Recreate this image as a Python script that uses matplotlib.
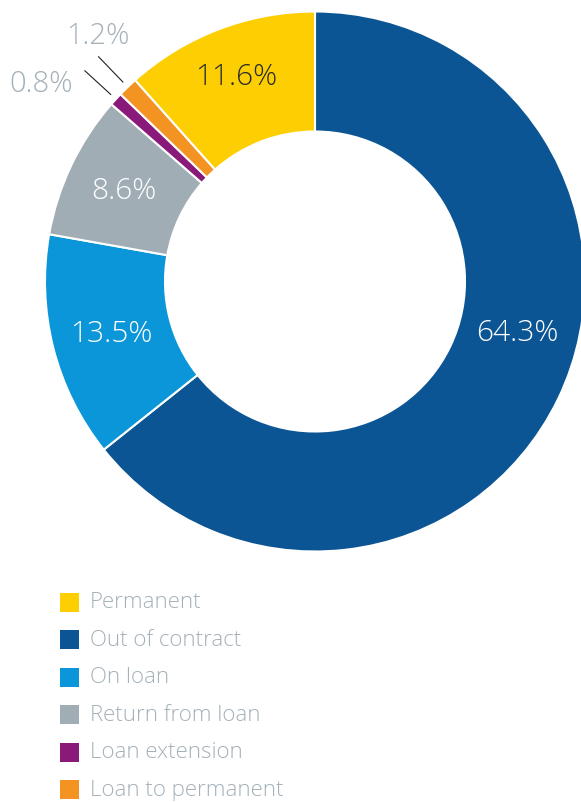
import numpy as np
import matplotlib.pyplot as plt
from matplotlib.patches import Rectangle

categories = ["Out of contract", "On loan", "Return from loan", "Loan extension",
              "Loan to permanent", "Permanent"]
values = [64.3, 13.5, 8.6, 0.8, 1.2, 11.6]
colors = ["#0b5594", "#0a96d8", "#a0adb5", "#8a1a7a", "#f39322", "#fdcf03"]
legend_order = ["Permanent", "Out of contract", "On loan", "Return from loan",
                "Loan extension", "Loan to permanent"]

plt.rcParams['font.family'] = ['Open Sans', 'DejaVu Sans']
plt.rcParams['font.weight'] = 'light'
grey_txt = "#a4b1b9"

W, H = 581, 803
fig = plt.figure(figsize=(W / 100, H / 100), dpi=100)
ax = fig.add_axes([0, 0, 1, 1])

cx, cy = 315, H - 282.5
r_out, r_in = 270, 150

wedges, _ = ax.pie(values, colors=colors, startangle=90, counterclock=False,
                   center=(cx, cy), radius=r_out, frame=True,
                   wedgeprops=dict(width=r_out - r_in, edgecolor='white', linewidth=1.5))
ax.set_xlim(0, W)
ax.set_ylim(0, H)
ax.set_aspect('equal')
ax.axis('off')

# mid angles of each wedge
cum = np.cumsum([0] + values)
mids = [90 - (cum[i] + values[i] / 2) * 3.6 for i in range(len(values))]

# labels inside the ring
inside = {0: ("white", -14, 208), 1: ("white", None, 210), 2: ("white", None, 212),
          5: ("#2b2b2b", None, 220)}
for i, (col, ang, rr) in inside.items():
    a = np.radians(mids[i] if ang is None else ang)
    ax.text(cx + rr * np.cos(a), cy + rr * np.sin(a), f"{values[i]:.1f}%",
            color=col, fontsize=21.5, ha='center', va='center', fontweight='light')

# small slices: leader lines + outside labels
outside = {3: (-12, -12, 'right'), 4: (-1, 22, 'center')}
for i, (dx, dy, ha) in outside.items():
    a = np.radians(mids[i])
    x0, y0 = cx + 277 * np.cos(a), cy + 277 * np.sin(a)
    x1, y1 = cx + 312 * np.cos(a), cy + 312 * np.sin(a)
    ax.plot([x0, x1], [y0, y1], color='#222222', lw=0.8)
    ax.text(x1 + dx, y1 + dy, f"{values[i]:.1f}%", color=grey_txt,
            fontsize=21, ha=ha, va='center', fontweight='light')

# legend
for k, name in enumerate(legend_order):
    yc = H - (603 + 37.5 * k)
    c = colors[categories.index(name)]
    ax.add_patch(Rectangle((60, yc - 9.5), 19, 19, facecolor=c, edgecolor='none'))
    ax.text(90, yc, name, color=grey_txt, fontsize=16, ha='left', va='center',
            fontweight='light')

fig.savefig("out.png", dpi=100)
